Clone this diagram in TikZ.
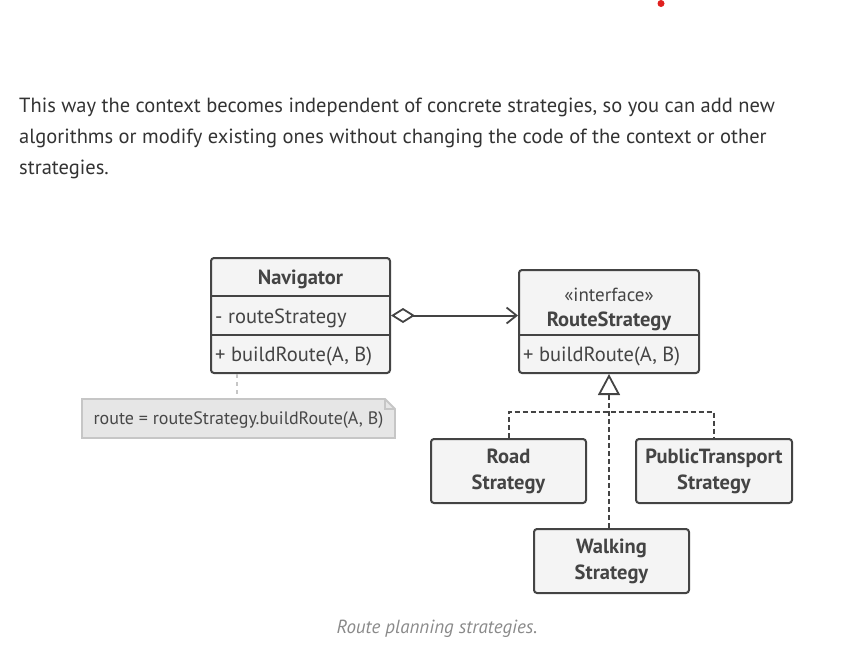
\documentclass[tikz,border=0pt]{standalone}
\usepackage{fontspec}
\setmainfont{PT Sans}
\usetikzlibrary{arrows.meta,positioning}
\definecolor{ink}{HTML}{444444}
\definecolor{textgray}{HTML}{333333}
\definecolor{boxfill}{HTML}{F4F4F4}
\definecolor{notefill}{HTML}{E6E6E6}
\definecolor{noteline}{HTML}{C6C6C6}
\definecolor{capgray}{HTML}{8A8A8A}
\definecolor{dotred}{HTML}{E0201E}

\begin{document}
\begin{tikzpicture}[x=1pt,y=-1pt,
    classbox/.style={draw=ink,fill=boxfill,line width=2pt,rounded corners=3pt,inner sep=0pt},
    boxtext/.style={text=ink,font=\fontsize{20.5}{24}\selectfont,inner sep=0pt},
    boldtext/.style={boxtext,font=\fontsize{20.5}{26}\selectfont\bfseries,align=center},
    paratext/.style={text=textgray,font=\fontsize{20.5}{24}\selectfont,anchor=base west,inner sep=0pt},
    link/.style={draw=ink,line width=2pt},
    realize/.style={link,dashed,dash pattern=on 5pt off 3pt}]
  \useasboundingbox (0,0) rectangle (848,665);
  \fill[dotred] (661,3.5) circle (3.5);

  % paragraph
  \node[paratext] (line1) at (19,112) {This way the context becomes independent of concrete strategies, so you can add new};
  \node[paratext] (line2) at (19,143) {algorithms or modify existing ones without changing the code of the context or other};
  \node[paratext] (line3) at (19,174) {strategies.};

  % Navigator
  \node[classbox,minimum width=179pt,minimum height=115pt] (nav) at (300.5,315.5) {};
  \draw[ink,line width=2pt] (211,296) -- (390,296);
  \draw[ink,line width=2pt] (211,335) -- (390,335);
  \node[boldtext] (navname) at (300.5,279) {Navigator};
  \node[boxtext,anchor=west] (navfield) at (215,318) {- routeStrategy};
  \node[boxtext,anchor=west] (navmeth) at (215,356) {+ buildRoute(A, B)};

  % RouteStrategy
  \node[classbox,minimum width=180pt,minimum height=103pt] (rs) at (609,321.5) {};
  \draw[ink,line width=2pt] (519,335) -- (699,335);
  \node[boxtext,font=\fontsize{19}{22}\selectfont] (rstag) at (609,295) {«interface»};
  \node[boldtext] (rsname) at (609,321) {RouteStrategy};
  \node[boxtext,anchor=west] (rsmeth) at (523,356) {+ buildRoute(A, B)};

  % aggregation
  \draw[link,{Diamond[open,length=24pt,width=15pt,line width=1.8pt]}-{Straight Barb[length=10pt,width=16pt,line width=1.8pt]}]
    (nav.east) -- (nav.east -| rs.west);

  % note
  \coordinate (notetop) at (237,399);
  \draw[noteline,line width=1.8pt,dashed,dash pattern=on 4pt off 4pt] (237,374) -- (notetop);
  \draw[noteline,fill=notefill,line width=1.8pt] (82,399) -- (385,399) -- (395,409) -- (395,438) -- (82,438) -- cycle;
  \draw[noteline,line width=1.2pt] (385,399) -- (385,409) -- (395,409);
  \node[boxtext,text=textgray!90,font=\fontsize{18}{22}\selectfont] (note) at (238.5,420) {route = routeStrategy.buildRoute(A, B)};

  % concrete strategies
  \node[classbox,boldtext,minimum width=155pt,minimum height=64pt] (road) at (508.5,471) {Road\\Strategy};
  \node[classbox,boldtext,minimum width=156pt,minimum height=64pt] (pt) at (714,471) {PublicTransport\\Strategy};
  \node[classbox,boldtext,minimum width=155pt,minimum height=64pt] (walk) at (611.5,561) {Walking\\Strategy};

  \coordinate (bar) at (609,412);
  \draw[realize] (road.north) |- (bar) -| (pt.north);
  \draw[realize,-{Triangle[open,length=21pt,width=22pt,line width=1.8pt,sep=0pt]}] (walk.north -| bar) -- (rs.south);

  % caption
  \node[text=capgray,font=\fontsize{19}{22}\selectfont\itshape] (caption) at (437,629) {Route planning strategies.};
\end{tikzpicture}
\end{document}
